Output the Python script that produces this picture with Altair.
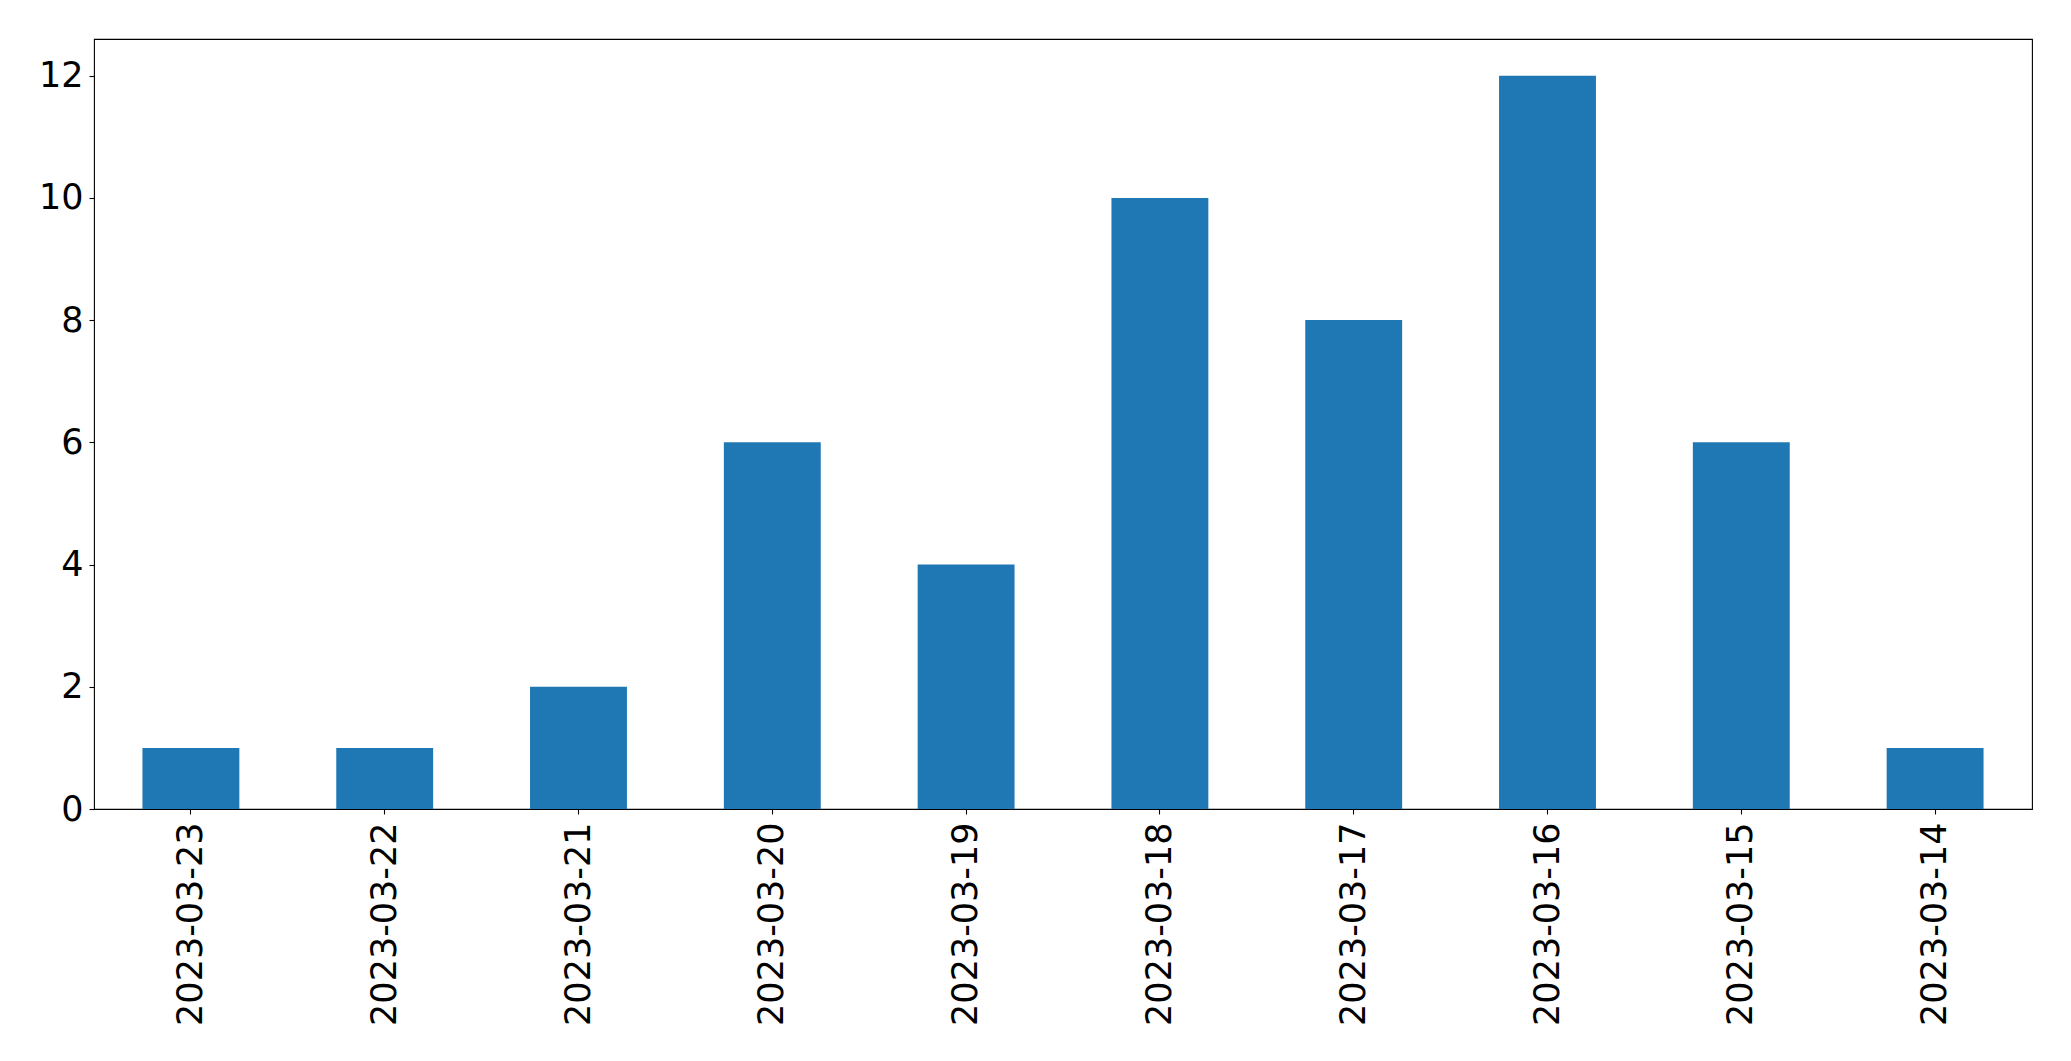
import altair as alt
import pandas as pd

dates = ["2023-03-23", "2023-03-22", "2023-03-21", "2023-03-20", "2023-03-19",
         "2023-03-18", "2023-03-17", "2023-03-16", "2023-03-15", "2023-03-14"]
counts = [1, 1, 2, 6, 4, 10, 8, 12, 6, 1]

df = pd.DataFrame({"date": dates, "count": counts})

FONT = "DejaVu Sans"

chart = alt.Chart(df).mark_bar(color="#1f77b4").encode(
    x=alt.X("date:N", sort=None, title=None,
            scale=alt.Scale(paddingInner=0.5, paddingOuter=0.25),
            axis=alt.Axis(labelAngle=-90, labelFontSize=35, labelFont=FONT,
                          labelColor="black", tickColor="black", tickSize=5,
                          tickWidth=1.1, domain=False, labelPadding=8,
                          labelLimit=1000,
                          labelBaseline="middle", labelAlign="right")),
    y=alt.Y("count:Q", title=None,
            scale=alt.Scale(domain=[0, 12.6], nice=False, zero=True),
            axis=alt.Axis(values=[0, 2, 4, 6, 8, 10, 12], labelFontSize=35,
                          labelFont=FONT, labelColor="black", tickColor="black",
                          tickSize=5, tickWidth=1.1, domain=False, grid=False,
                          labelPadding=6)),
).properties(
    width=1938, height=770,
    autosize=alt.AutoSizeParams(type="none"),
    padding={"left": 86, "top": 31, "right": 31, "bottom": 240},
).configure_view(
    stroke="black", strokeWidth=1.1
)

chart.save("out.html", embed_options={"renderer": "svg", "actions": False})
